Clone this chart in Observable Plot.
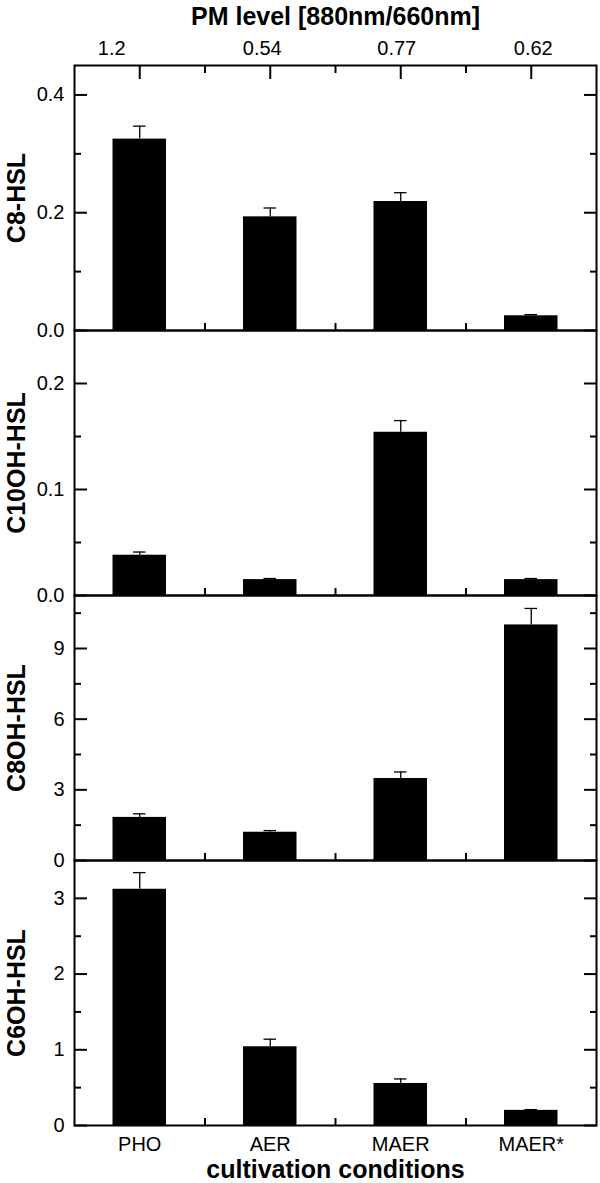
<!DOCTYPE html>
<html><head><meta charset="utf-8">
<script src="https://cdn.jsdelivr.net/npm/d3@7"></script>
<script src="https://cdn.jsdelivr.net/npm/@observablehq/plot@0.6"></script>
<style>
body{margin:0;background:#fff;}
#chart{position:relative;width:600px;height:1183px;}
#chart svg{position:absolute;left:0;}
</style></head><body><div id="chart"></div>
<script>
const categories = ["PHO", "AER", "MAER", "MAER*"];
const pmLevels = ["1.2", "0.54", "0.77", "0.62"];
const positions = [1, 2, 3, 4];
const midTicks = [1.5, 2.5, 3.5];

const c8Values = [0.325, 0.193, 0.219, 0.025];
const c8Errors = [0.022, 0.015, 0.015, 0.002];
const c10ohValues = [0.038, 0.015, 0.154, 0.015];
const c10ohErrors = [0.003, 0.001, 0.011, 0.001];
const c8ohValues = [1.83, 1.2, 3.48, 10.0];
const c8ohErrors = [0.15, 0.07, 0.28, 0.7];
const c6ohValues = [3.12, 1.04, 0.555, 0.2];
const c6ohErrors = [0.22, 0.1, 0.06, 0.01];

const c8Ticks = [0, 0.2, 0.4], c8Minor = [0.1, 0.3];
const c10ohTicks = [0, 0.1, 0.2], c10ohMinor = [0.05, 0.15];
const c8ohTicks = [0, 3, 6, 9], c8ohMinor = [1.5, 4.5, 7.5, 10.5];
const c6ohTicks = [0, 1, 2, 3], c6ohMinor = [0.5, 1.5, 2.5];

const panels = [
  {label: "C8-HSL", values: c8Values, errors: c8Errors, max: 0.45, major: c8Ticks, minor: c8Minor, format: ".1f"},
  {label: "C10OH-HSL", values: c10ohValues, errors: c10ohErrors, max: 0.25, major: c10ohTicks, minor: c10ohMinor, format: ".1f"},
  {label: "C8OH-HSL", values: c8ohValues, errors: c8ohErrors, max: 11.25, major: c8ohTicks, minor: c8ohMinor, format: "d"},
  {label: "C6OH-HSL", values: c6ohValues, errors: c6ohErrors, max: 3.5, major: c6ohTicks, minor: c6ohMinor, format: "d"}
];

// pixel nudges of the top-axis labels (as placed in the original figure)
const pmLabelNudge = [-28, -8, -4, 2];

const FONT = "'Liberation Sans', Arial, Helvetica, sans-serif";
const FRAME_TOP = 65, FRAME_H = 265, ML = 74, MR = 4;
const BOLD = 25;
const chart = document.getElementById("chart");

panels.forEach((p, i) => {
  const first = i === 0, last = i === panels.length - 1;
  const mt = first ? FRAME_TOP : 5;
  const mb = last ? 1183 - (FRAME_TOP + FRAME_H * panels.length) : 5;
  const rows = categories.map((c, j) => ({pos: positions[j], value: p.values[j], hi: p.values[j] + p.errors[j]}));
  const marks = [
    Plot.rectY(rows, {x1: d => d.pos - 0.5, x2: d => d.pos + 0.5, y1: 0, y2: "value", insetLeft: 38.5, insetRight: 38.5, fill: "#000"}),
    Plot.ruleX(rows, {x: "pos", y1: "value", y2: "hi", stroke: "#000", strokeWidth: 1.3}),
    Plot.ruleY(rows, {x1: d => d.pos - 0.5, x2: d => d.pos + 0.5, y: "hi", insetLeft: 59, insetRight: 59, stroke: "#000", strokeWidth: 1.3}),
    Plot.axisY(p.major, {anchor: "left", tickSize: -13, tickPadding: 23, tickFormat: d3.format(p.format), strokeWidth: 2, fontSize: 20, label: null}),
    Plot.axisY(p.minor, {anchor: "left", tickSize: -7, fill: "none", strokeWidth: 2, label: null}),
    Plot.axisY(p.major, {anchor: "right", tickSize: -13, fill: "none", strokeWidth: 2, label: null}),
    Plot.axisY(p.minor, {anchor: "right", tickSize: -7, fill: "none", strokeWidth: 2, label: null}),
    Plot.axisX(midTicks, {anchor: "bottom", tickSize: -7, fill: "none", strokeWidth: 2, label: null}),
    Plot.frame({stroke: "#000", strokeWidth: 2}),
    Plot.text([p.label], {frameAnchor: "left", dx: -58, rotate: -90, textAnchor: "middle", lineAnchor: "middle", fontSize: BOLD, fontWeight: "bold", fill: "#000"})
  ];
  if (first) {
    marks.push(
      Plot.axisX(positions, {anchor: "top", tickSize: -13, fill: "none", strokeWidth: 2, label: null}),
      Plot.axisX(midTicks, {anchor: "top", tickSize: -7, fill: "none", strokeWidth: 2, label: null}),
      ...positions.map((pos, j) => Plot.text([pmLevels[j]], {x: () => pos, frameAnchor: "top", lineAnchor: "middle", dy: -17, dx: pmLabelNudge[j], fontSize: 20, fill: "#000"})),
      Plot.text(["PM level [880nm/660nm]"], {frameAnchor: "top", lineAnchor: "middle", dy: -49, fontSize: BOLD, fontWeight: "bold", fill: "#000"})
    );
  }
  if (last) {
    marks.push(
      Plot.axisX(positions, {anchor: "bottom", tickSize: -13, tickPadding: 24, tickFormat: d => categories[d - 1], strokeWidth: 2, fontSize: 20, label: null}),
      Plot.text(["cultivation conditions"], {frameAnchor: "bottom", lineAnchor: "bottom", dy: 52, fontSize: BOLD, fontWeight: "bold", fill: "#000"})
    );
  }
  const svg = Plot.plot({
    width: 600,
    height: mt + FRAME_H + mb,
    marginTop: mt, marginBottom: mb, marginLeft: ML, marginRight: MR,
    x: {type: "linear", domain: [0.5, 4.5]},
    y: {type: "linear", domain: [0, p.max]},
    style: {fontFamily: FONT, fontSize: "20px", color: "#000", background: "transparent", overflow: "visible"},
    marks
  });
  svg.style.top = (FRAME_TOP + FRAME_H * i - mt) + "px";
  chart.appendChild(svg);
});
</script></body></html>
